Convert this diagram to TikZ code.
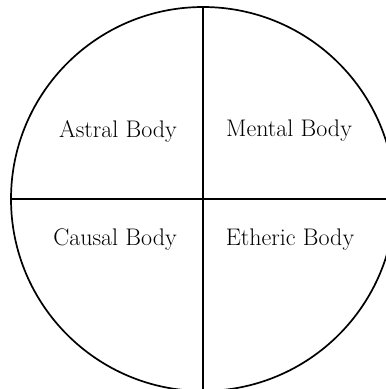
\documentclass[tikz,border=0pt]{standalone}
\begin{document}
\begin{tikzpicture}[x=1pt,y=-1pt,
  lbl/.style={font=\fontsize{24}{28}\selectfont, inner sep=0pt},
  ln/.style={line width=1.7pt, black}]
\useasboundingbox (0,0) rectangle (386,389);
\clip (0,0) rectangle (386,389);
\coordinate (c) at (203,199);
\draw[ln] (c) circle[radius=192];
\coordinate (top) at (203,7);
\coordinate (bot) at (203,400);
\coordinate (lft) at (11,199);
\coordinate (rgt) at (400,199);
\draw[ln] (top) -- (bot);
\draw[ln] (lft) -- (rgt);
\node[lbl] (astral) at (118,131) {Astral Body};
\node[lbl] (mental) at (289,131) {Mental Body};
\node[lbl] (causal) at (115,240) {Causal Body};
\node[lbl] (etheric) at (290,240) {Etheric Body};
\end{tikzpicture}
\end{document}
